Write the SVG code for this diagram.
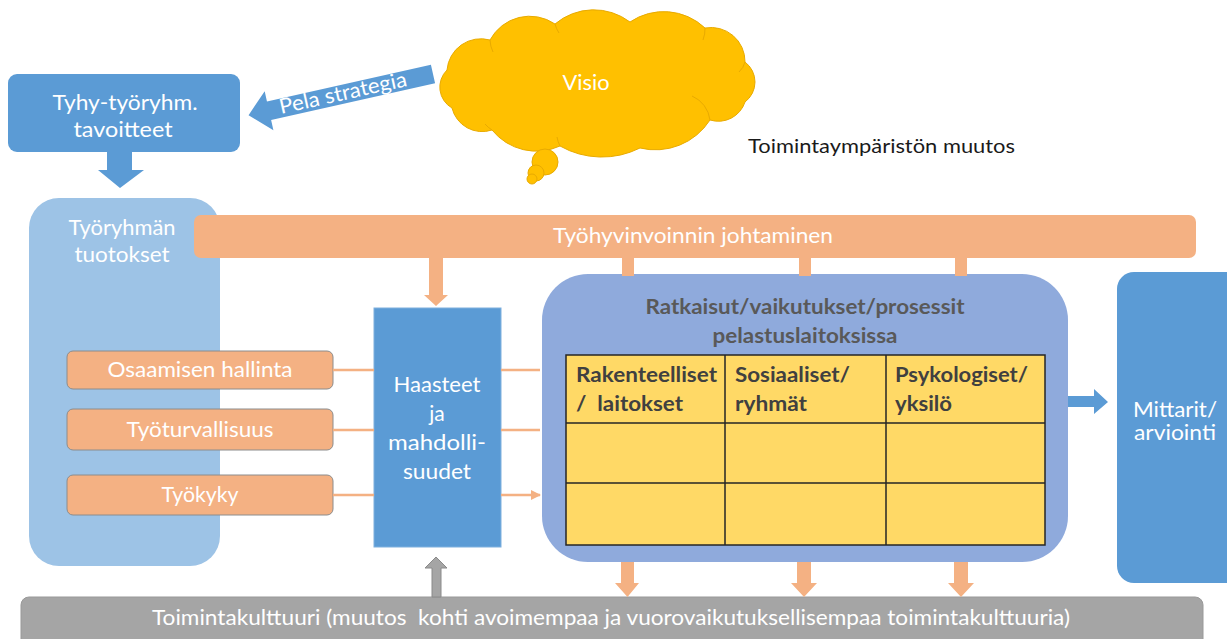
<svg xmlns="http://www.w3.org/2000/svg" width="1227" height="639" viewBox="0 0 1227 639">
<defs>
<style>
text{font-family:Lato,"Liberation Sans","DejaVu Sans",sans-serif;}
.w{fill:#ffffff;font-size:21px;text-anchor:middle;}
.t{fill:#595959;font-size:20px;font-weight:bold;text-anchor:middle;}
.c{fill:#404040;font-size:20px;font-weight:bold;}
.blue{fill:#5b9bd5;}
.or{fill:#f4b183;}
.thin{stroke:#f4b183;stroke-width:2.5;fill:none;}
.cl{fill:#ffc000;stroke:#e8aa00;stroke-width:1;}
</style>
<marker id="ah" viewBox="0 0 10 10" refX="9" refY="5" markerWidth="4" markerHeight="4" orient="auto" markerUnits="strokeWidth">
<path d="M0,0 L10,5 L0,10 z" fill="#f4b183"/>
</marker>
</defs>
<rect width="1227" height="639" fill="#ffffff"/>

<!-- Cloud -->
<g id="visio">
<path class="cl" d="M452,108 A24,24 0 0 1 447,70 A34,34 0 0 1 490,40 A45,45 0 0 1 555,24 A60,60 0 0 1 630,22 A60,60 0 0 1 705,28 A34,34 0 0 1 745,62 A25,25 0 0 1 745,102 A28,28 0 0 1 710,120 A65,65 0 0 1 640,148 A85,85 0 0 1 560,146 A57,57 0 0 1 492,130 A31,31 0 0 1 452,108 Z"/>
<path d="M490,40 A30,30 0 0 0 493,52 M555,24 A30,30 0 0 0 559,33 M705,28 A30,30 0 0 1 703,40 M745,62 A20,20 0 0 1 739,72 M710,120 A30,30 0 0 0 692,96 M560,146 A30,30 0 0 1 557,137 M492,130 A30,30 0 0 1 485,124" fill="none" stroke="#e8aa00" stroke-width="1"/>
<circle class="cl" cx="545" cy="162" r="13"/>
<circle class="cl" cx="536" cy="173" r="8"/>
<circle class="cl" cx="532" cy="179" r="5"/>
<text class="w" x="586" y="90" textLength="47" lengthAdjust="spacingAndGlyphs">Visio</text>
</g>

<g id="toimintaymparisto">
<text x="748" y="153" font-size="19" fill="#1a1a1a" textLength="267" lengthAdjust="spacingAndGlyphs">Toimintaympäristön muutos</text>
</g>

<!-- Tyhy box -->
<g id="tyhy">
<rect x="8" y="74" width="232" height="78" rx="9" class="blue"/>
<text class="w" x="125" y="110" textLength="145" lengthAdjust="spacingAndGlyphs">Tyhy-työryhm.</text>
<text class="w" x="123" y="137" textLength="99" lengthAdjust="spacingAndGlyphs">tavoitteet</text>
</g>

<!-- Tyoryhman tuotokset -->
<g id="tuotokset">
<rect x="29" y="198" width="191" height="368" rx="30" fill="#9dc3e6"/>
<text class="w" x="122" y="235" textLength="107" lengthAdjust="spacingAndGlyphs">Työryhmän</text>
<text class="w" x="122" y="262" textLength="95" lengthAdjust="spacingAndGlyphs">tuotokset</text>
</g>

<!-- Tyohyvinvoinnin johtaminen -->
<g id="johtaminen">
<rect x="194" y="215" width="1002" height="43" rx="7" class="or"/>
<text class="w" x="693" y="243" textLength="280" lengthAdjust="spacingAndGlyphs">Työhyvinvoinnin johtaminen</text>
</g>

<!-- Orange boxes -->
<g id="osaaminen">
<rect x="67" y="351" width="266" height="38" rx="6" class="or" stroke="#8c8c8c" stroke-width="1"/>
<text class="w" x="200" y="377" textLength="185" lengthAdjust="spacingAndGlyphs">Osaamisen hallinta</text>
</g>
<g id="tyoturvallisuus">
<rect x="67" y="409" width="266" height="41" rx="6" class="or" stroke="#8c8c8c" stroke-width="1"/>
<text class="w" x="200" y="437" textLength="147" lengthAdjust="spacingAndGlyphs">Työturvallisuus</text>
</g>
<g id="tyokyky">
<rect x="67" y="475" width="266" height="40" rx="6" class="or" stroke="#8c8c8c" stroke-width="1"/>
<text class="w" x="200" y="502" textLength="77" lengthAdjust="spacingAndGlyphs">Työkyky</text>
</g>

<!-- Haasteet -->
<g id="haasteet">
<rect x="374" y="308" width="127" height="239" class="blue" stroke="#7fb0de" stroke-width="1"/>
<text class="w" x="437" y="392" textLength="87" lengthAdjust="spacingAndGlyphs">Haasteet</text>
<text class="w" x="437" y="421">ja</text>
<text class="w" x="437" y="450" textLength="98" lengthAdjust="spacingAndGlyphs">mahdolli-</text>
<text class="w" x="437" y="479" textLength="68" lengthAdjust="spacingAndGlyphs">suudet</text>
</g>

<!-- Ratkaisut -->
<g id="ratkaisut">
<rect x="542" y="274" width="526" height="288" rx="46" fill="#8faadc"/>
<text class="t" x="805" y="314" textLength="319" lengthAdjust="spacingAndGlyphs">Ratkaisut/vaikutukset/prosessit</text>
<text class="t" x="805" y="343" textLength="185" lengthAdjust="spacingAndGlyphs">pelastuslaitoksissa</text>
<rect x="566" y="355" width="479" height="190" fill="#ffd966" stroke="#262626" stroke-width="1.5"/>
<path d="M725,355 V545 M886,355 V545 M566,423 H1045 M566,483 H1045" stroke="#262626" stroke-width="1.5" fill="none"/>
<text class="c" x="576" y="382" textLength="141" lengthAdjust="spacingAndGlyphs">Rakenteelliset</text>
<text class="c" x="576" y="411" textLength="107" lengthAdjust="spacingAndGlyphs" xml:space="preserve">/  laitokset</text>
<text class="c" x="735" y="382" textLength="115" lengthAdjust="spacingAndGlyphs">Sosiaaliset/</text>
<text class="c" x="735" y="411" textLength="72" lengthAdjust="spacingAndGlyphs">ryhmät</text>
<text class="c" x="895" y="382" textLength="133" lengthAdjust="spacingAndGlyphs">Psykologiset/</text>
<text class="c" x="895" y="411" textLength="57" lengthAdjust="spacingAndGlyphs">yksilö</text>
</g>

<!-- Mittarit -->
<g id="mittarit">
<rect x="1117" y="272" width="130" height="311" rx="17" class="blue"/>
<text class="w" x="1175" y="417" textLength="84" lengthAdjust="spacingAndGlyphs">Mittarit/</text>
<text class="w" x="1175" y="440" textLength="82" lengthAdjust="spacingAndGlyphs">arviointi</text>
</g>

<!-- Toimintakulttuuri -->
<g id="toimintakulttuuri">
<rect x="21" y="597" width="1182" height="55" rx="8" fill="#a5a5a5" stroke="#999999" stroke-width="1"/>
<text class="w" x="611" y="625" textLength="918" lengthAdjust="spacingAndGlyphs" xml:space="preserve">Toimintakulttuuri (muutos  kohti avoimempaa ja vuorovaikutuksellisempaa toimintakulttuuria)</text>
</g>

<!-- Connectors -->
<g id="connectors">
<g transform="translate(433,74) rotate(-12.6)">
<path d="M0,-9.5 L-168,-9.5 L-168,-20 L-189,0 L-168,20 L-168,9.5 L0,9.5 Z" fill="#5b9bd5"/>
<text class="w" x="-92" y="6" font-size="17" textLength="130" lengthAdjust="spacingAndGlyphs">Pela strategia</text>
</g>
<path d="M107,152 H132 V170 H144 L120,188 L98,170 H107 Z" fill="#5b9bd5"/>
<path d="M429,258 H443 V295 H448 L436,306 L424,295 H429 Z" fill="#f4b183"/>
<rect x="622" y="256" width="12" height="20" fill="#f4b183"/>
<rect x="799" y="256" width="12" height="20" fill="#f4b183"/>
<rect x="955" y="256" width="12" height="20" fill="#f4b183"/>
<path d="M333,370 H374 M333,430 H374 M333,495 H374" class="thin"/>
<path d="M501,370 H540 M501,430 H540 M501,495 H540" class="thin" marker-end="url(#ah)"/>
<path d="M1068,396 H1094 V389 L1108,402 L1094,414 V407 H1068 Z" fill="#5b9bd5"/>
<path d="M621,562 H634 V583 H639 L627.5,597 L615,583 H621 Z" fill="#f4b183"/>
<path d="M797,562 H811 V583 H817 L804,597 L791,583 H797 Z" fill="#f4b183"/>
<path d="M954,562 H968 V583 H974 L961,597 L948,583 H954 Z" fill="#f4b183"/>
<path d="M432,597 V568 H425 L436,557 L447,568 H441 V597 Z" fill="#a5a5a5" stroke="#8a8a8a" stroke-width="1"/>
</g>
</svg>
